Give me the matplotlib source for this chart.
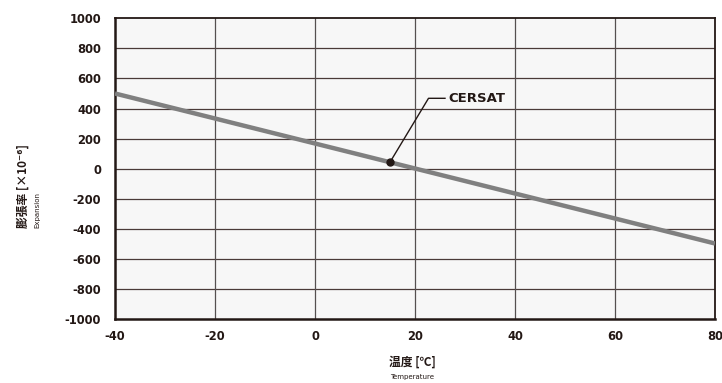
import matplotlib
matplotlib.use("Agg")
import matplotlib.pyplot as plt

plt.rcParams['font.family'] = ['DejaVu Sans', 'Noto Sans CJK JP']
plt.rcParams['axes.unicode_minus'] = False

temps = [-40, 80]
expansion = [500, -500]
point_temp = 15
point_val = 42
annot_label = "CERSAT"
x_ticks = [-40, -20, 0, 20, 40, 60, 80]
y_ticks = [-1000, -800, -600, -400, -200, 0, 200, 400, 600, 800, 1000]
x_label = "温度 [℃]"
x_label_en = "Temperature"
y_label = "膨張率 [×10⁻⁶]"
y_label_en = "Expansion"

fig = plt.figure(figsize=(7.22, 3.83), dpi=100)
ax = fig.add_axes([0.1593, 0.1684, 0.831, 0.7833])
ax.set_facecolor('#f7f7f7')

ax.set_xlim(-40, 80)
ax.set_ylim(-1000, 1000)
ax.set_xticks(x_ticks)
ax.set_yticks(y_ticks)
ax.tick_params(length=0, labelsize=8.3, colors='#231815')
ax.tick_params(axis='y', pad=10)
ax.tick_params(axis='x', pad=8)
for lab in ax.get_xticklabels() + ax.get_yticklabels():
    lab.set_fontweight('bold')

for y in y_ticks[1:-1]:
    ax.axhline(y, color='#4a3a38', lw=0.9, zorder=1)
for x in x_ticks[1:-1]:
    ax.axvline(x, color='#555050', lw=0.9, zorder=1)

for s in ax.spines.values():
    s.set_color('#231815')
    s.set_linewidth(1.3)
ax.spines['left'].set_linewidth(1.8)
ax.spines['bottom'].set_linewidth(1.8)

ax.plot(temps, expansion, color='#808080', lw=3.2, solid_capstyle='butt', zorder=3)
ax.plot([point_temp], [point_val], 'o', color='#231815', ms=5, zorder=4)

# annotation leader
ax.plot([point_temp, 22.7, 26.0], [point_val, 468, 468], color='#231815', lw=1.0, zorder=4)
ax.text(26.6, 468, annot_label, fontsize=9.5, fontweight='bold', color='#231815',
        va='center', ha='left', zorder=5)

fig.text(412/722, 1 - 362/383, x_label, ha='center', va='center', fontsize=8.5,
         fontweight='bold', family=['Noto Sans CJK JP', 'DejaVu Sans'], color='#231815')
fig.text(412/722, 1 - 377/383, x_label_en, ha='center', va='center', fontsize=5,
         family=['DejaVu Sans'], color='#231815')

fig.text(23/722, 1 - 228/383, y_label, ha='center', va='bottom', rotation=90, fontsize=8.5,
         fontweight='bold', family=['Noto Sans CJK JP', 'DejaVu Sans'], color='#231815')
fig.text(37/722, 1 - 228/383, y_label_en, ha='center', va='bottom', rotation=90, fontsize=5,
         family=['DejaVu Sans'], color='#231815')

fig.savefig('out.png', dpi=100, facecolor='white')
